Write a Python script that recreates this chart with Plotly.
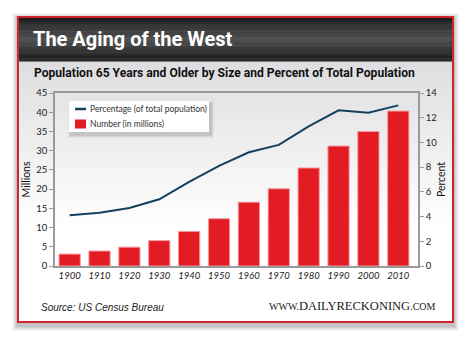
import plotly.graph_objects as go

# Census figures, age 65+
years = [1900, 1910, 1920, 1930, 1940, 1950, 1960, 1970, 1980, 1990, 2000, 2010]
number_millions = [3.1, 3.9, 4.9, 6.6, 9.0, 12.3, 16.6, 20.1, 25.5, 31.2, 35.0, 40.3]
percent_total = [4.1, 4.3, 4.7, 5.4, 6.8, 8.1, 9.2, 9.8, 11.3, 12.6, 12.4, 13.0]
left_ticks = [0, 5, 10, 15, 20, 25, 30, 35, 40, 45]
right_ticks = [0, 2, 4, 6, 8, 10, 12, 14]

LINE_NAME = "Percentage (of total population)"
BAR_NAME = "Number (in millions)"
LINE_COLOR = "#14405e"
BAR_COLOR = "#e31b23"

W, H = 470, 338
L, R, T, B = 55, 418, 93, 266  # plot area in pixels


def px(x):
    return (x - L) / (R - L)


def py(y):
    return (B - y) / (B - T)


def rect(x0, y0, x1, y1, fill, line=None, lw=0, layer="below"):
    return dict(type="rect", xref="paper", yref="paper",
                x0=px(x0), x1=px(x1), y0=py(y1), y1=py(y0),
                fillcolor=fill, line=dict(color=line or "rgba(0,0,0,0)", width=lw),
                layer=layer)


def lerp(c0, c1, t):
    return "rgb(%d,%d,%d)" % tuple(round(a + (b - a) * t) for a, b in zip(c0, c1))


shapes = []
# soft drop shadow around the card
for i, a in enumerate([0.03, 0.04, 0.05, 0.06, 0.07]):
    d = 6 - i
    shapes.append(rect(18 - d, 17 - d + 2, 453 + d, 322 + d + 3, "rgba(0,0,0,%.2f)" % a))
# card body
shapes.append(rect(18, 17, 453, 322, "white"))
# light grey wash fading down the card
g0, g1 = (222, 222, 224), (255, 255, 255)
top, bot = 61, 230
n = 30
for i in range(n):
    y0 = top + (bot - top) * i / n
    y1 = top + (bot - top) * (i + 1) / n + 0.5
    shapes.append(rect(19, y0, 452, y1, lerp(g0, g1, i / (n - 1))))
# dark title bar gradient
stops = [(18, (25, 25, 25)), (26, (55, 55, 57)), (40, (78, 78, 80)), (54, (45, 45, 46)), (61, (18, 18, 18))]
for (ya, ca), (yb, cb) in zip(stops[:-1], stops[1:]):
    k = 8
    for j in range(k):
        y0 = ya + (yb - ya) * j / k
        y1 = ya + (yb - ya) * (j + 1) / k + 0.4
        shapes.append(rect(19, y0, 452, y1, lerp(ca, cb, j / (k - 1))))
# red card border
shapes.append(rect(18, 17, 453, 322, "rgba(0,0,0,0)", line="#d3242b", lw=2))

# legend box with a soft shadow
for i, a in enumerate([0.04, 0.06, 0.08]):
    d = 3 - i
    shapes.append(rect(69 - d + 2, 101 - d + 3, 209 + d + 2, 132 + d + 3,
                       "rgba(0,0,0,%.2f)" % a, layer="above"))
shapes.append(rect(69, 101, 209, 132, "white", layer="above"))
# legend keys
shapes.append(dict(type="line", xref="paper", yref="paper",
                   x0=px(75), x1=px(86), y0=py(109), y1=py(109),
                   line=dict(color=LINE_COLOR, width=2.5), layer="above"))
shapes.append(rect(75, 119.5, 86, 128.5, BAR_COLOR, layer="above"))

fig = go.Figure()
fig.add_trace(go.Bar(
    x=years, y=number_millions, name=BAR_NAME,
    marker=dict(color=BAR_COLOR, line=dict(color="#f29a9e", width=1)),
    width=7.1,
))
fig.add_trace(go.Scatter(
    x=years, y=percent_total, yaxis="y2", mode="lines",
    name=LINE_NAME,
    line=dict(color=LINE_COLOR, width=2),
))

axis_line = "#9a9a9a"
FONT = "Lato, Open Sans, sans-serif"
tick_font = dict(family=FONT, size=9.5, color="#222")
legend_font = dict(family=FONT, size=8.5, color="#333")
fig.update_layout(
    width=W, height=H,
    margin=dict(l=L, r=W - R, t=T, b=H - B),
    paper_bgcolor="white", plot_bgcolor="rgba(0,0,0,0)",
    shapes=shapes,
    showlegend=False,
    xaxis=dict(range=[1895.1, 2016.6], tickvals=years, ticktext=[str(y) for y in years],
               tickfont=dict(family=FONT, size=9.5, color="#222", style="italic"),
               showgrid=False, zeroline=False, showline=True, linecolor=axis_line, linewidth=1.5,
               mirror=True, ticks=""),
    yaxis=dict(range=[0, 45], tickvals=left_ticks, tickfont=tick_font,
               showgrid=False, zeroline=False, showline=True, linecolor=axis_line, linewidth=1.5,
               ticks="outside", ticklen=4, tickcolor=axis_line,
               title=dict(text="Millions", font=dict(family=FONT, size=10.5, color="#111"),
                          standoff=4)),
    yaxis2=dict(range=[0, 14], tickvals=right_ticks, tickfont=tick_font, overlaying="y", side="right",
                showgrid=False, zeroline=False, showline=True, linecolor=axis_line, linewidth=1.5,
                ticks="outside", ticklen=4, tickcolor=axis_line,
                title=dict(text="Percent", font=dict(family=FONT, size=10.5, color="#111"),
                           standoff=1)),
    annotations=[
        dict(text=LINE_NAME, xref="paper", yref="paper", x=px(88), y=py(109),
             xanchor="left", yanchor="middle", showarrow=False, font=legend_font),
        dict(text=BAR_NAME, xref="paper", yref="paper", x=px(88), y=py(123.5),
             xanchor="left", yanchor="middle", showarrow=False, font=legend_font),
        dict(text="The Aging of the West", xref="paper", yref="paper",
             x=px(31), y=py(39), xanchor="left", yanchor="middle", showarrow=False,
             font=dict(family="Roboto, sans-serif", size=20, weight="bold", color="white")),
        dict(text="Population 65 Years and Older by Size and Percent of Total Population",
             xref="paper", yref="paper", x=px(32), y=py(73), xanchor="left", yanchor="middle",
             showarrow=False,
             font=dict(family="Roboto, sans-serif", size=12.1, weight="bold", color="#111")),
        dict(text="<i>Source: US Census Bureau</i>", xref="paper", yref="paper",
             x=px(39), y=py(307), xanchor="left", yanchor="middle", showarrow=False,
             font=dict(family="Liberation Sans, Arial, sans-serif", size=10, color="#222")),
        dict(text="<span style='font-size:10px'>WWW.</span>DAILYRECKONING<span style='font-size:10px'>.COM</span>",
             xref="paper", yref="paper",
             x=px(438), y=py(306), xanchor="right", yanchor="middle", showarrow=False,
             font=dict(family="Liberation Serif, serif", size=12.5, color="#222")),
    ],
)

fig.write_html("out.html")
